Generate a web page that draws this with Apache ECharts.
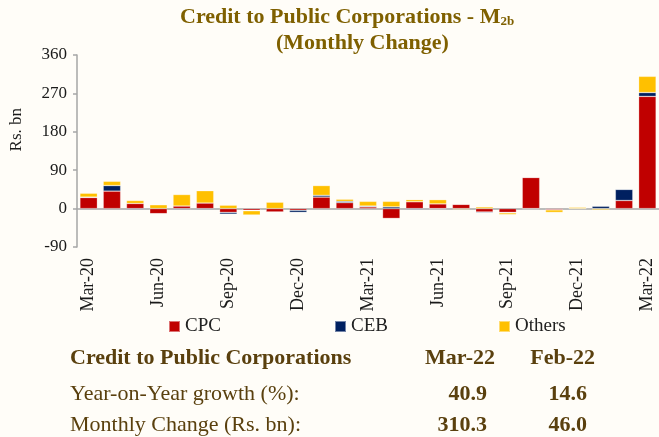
<!DOCTYPE html>
<html>
<head>
    <meta charset="utf-8">
    <title>Credit to Public Corporations</title>
    <script src="https://cdn.jsdelivr.net/npm/echarts@6/dist/echarts.min.js"></script>
    <style>
        html, body { margin: 0; padding: 0; background: #FFFDF8; }
        #chart { width: 659px; height: 437px; }
    </style>
</head>
<body>
<div id="chart"></div>
<script>
    // 月份 Mar-20 ~ Mar-22
    var months = ['Mar-20','Apr-20','May-20','Jun-20','Jul-20','Aug-20','Sep-20','Oct-20','Nov-20','Dec-20','Jan-21','Feb-21',
        'Mar-21','Apr-21','May-21','Jun-21','Jul-21','Aug-21','Sep-21','Oct-21','Nov-21','Dec-21','Jan-22','Feb-22','Mar-22'];
    // Rs. bn, monthly change
    var cpc = [26, 41, 12, -12, 6, 13, -9, -4, -8, -4, 27, 14, 4, -23, 16, 11, 10, -8, -9, 73, -3, 0, 0, 19, 263];
    var ceb = [1, 13, -2, 0, -2, -2, -4, -1, -1, -5, 4, 3, 2, 4, -2, -1, 0, -2, -1, 0, 0, 0, 5.5, 26, 9];
    var others = [9, 10, 7, 9, 27, 29, 8, -10, 15, 0, 23, 5, 11, 13, 5, 10, -2, 4, -4, -1, -6, 3, -3, 1, 38];
    // 表格
    var tableCols = ['Mar-22', 'Feb-22'];
    var yoyGrowth = ['40.9', '14.6'];
    var monthlyChange = ['310.3', '46.0'];

    var serif = '"Liberation Serif", "Times New Roman", serif';
    var brown = '#5A400E';
    var gold = '#7F6000';
    var axisGray = '#A6A6A6';

    function bar(name, data, color){
        return {
            name: name,
            type: 'bar',
            stack: 'total',
            data: data,
            barCategoryGap: '25%',
            itemStyle: { color: color, borderColor: 'rgba(255,255,255,0.45)', borderWidth: 0.6 }
        };
    }
    function legend(name, left){
        return {
            data: [name], left: left, top: 312,
            icon: 'rect', itemWidth: 11, itemHeight: 11,
            textStyle: { fontFamily: serif, fontSize: 19, color: '#222' }
        };
    }
    function txt(o, s, size, bold, color){
        var e = { type: 'text', top: o.top, style: { text: s, font: (bold ? 'bold ' : '') + size + 'px ' + serif, fill: color } };
        if (o.left != null) e.left = o.left;
        if (o.right != null) e.right = o.right;
        return e;
    }

    var mychart = echarts.init(document.getElementById('chart'));
    var option = {
        backgroundColor: '#FFFDF8',
        animation: false,
        grid: { left: 77, right: 0, top: 55, bottom: 190 },
        legend: [legend('CPC', 163), legend('CEB', 329), legend('Others', 493)],
        xAxis: {
            type: 'category',
            data: months,
            axisLine: { onZero: true, lineStyle: { color: axisGray, width: 1.5 } },
            axisTick: { interval: 2, length: 5, lineStyle: { color: axisGray, width: 1.5 } },
            axisLabel: { interval: 2, rotate: 90, margin: 11, fontFamily: serif, fontSize: 18, color: '#1a1a1a' }
        },
        yAxis: {
            type: 'value',
            min: -90, max: 360, interval: 90,
            axisLine: { show: true, lineStyle: { color: axisGray, width: 1.5 } },
            axisTick: { show: true, length: 4, lineStyle: { color: axisGray, width: 1.5 } },
            axisLabel: { margin: 10, fontFamily: serif, fontSize: 17, color: '#1a1a1a' },
            splitLine: { show: false }
        },
        series: [bar('CPC', cpc, '#C00000'), bar('CEB', ceb, '#002060'), bar('Others', others, '#FFC000')],
        graphic: [
            {
                type: 'text', left: 180, top: 6,
                style: {
                    text: '{a|Credit to Public Corporations - M}{s|2b}',
                    rich: {
                        a: { font: 'bold 22px ' + serif, fill: gold },
                        s: { font: 'bold 13px ' + serif, fill: gold, verticalAlign: 'bottom', padding: [10, 0, 0, 0] }
                    }
                }
            },
            txt({ left: 276, top: 32 }, '(Monthly Change)', 22, true, gold),
            {
                type: 'text', left: 8, top: 108, rotation: Math.PI / 2,
                style: { text: 'Rs. bn', font: '17px ' + serif, fill: '#1a1a1a' }
            },
            txt({ left: 70, top: 347 }, 'Credit to Public Corporations', 22, true, brown),
            txt({ right: 164, top: 347 }, tableCols[0], 22, true, brown),
            txt({ right: 64, top: 347 }, tableCols[1], 22, true, brown),
            txt({ left: 70, top: 383 }, 'Year-on-Year growth (%):', 22, false, brown),
            txt({ right: 172, top: 383 }, yoyGrowth[0], 22, true, brown),
            txt({ right: 72, top: 383 }, yoyGrowth[1], 22, true, brown),
            txt({ left: 70, top: 414 }, 'Monthly Change (Rs. bn):', 22, false, brown),
            txt({ right: 172, top: 414 }, monthlyChange[0], 22, true, brown),
            txt({ right: 72, top: 414 }, monthlyChange[1], 22, true, brown)
        ]
    };
    mychart.setOption(option);
</script>
</body>
</html>
